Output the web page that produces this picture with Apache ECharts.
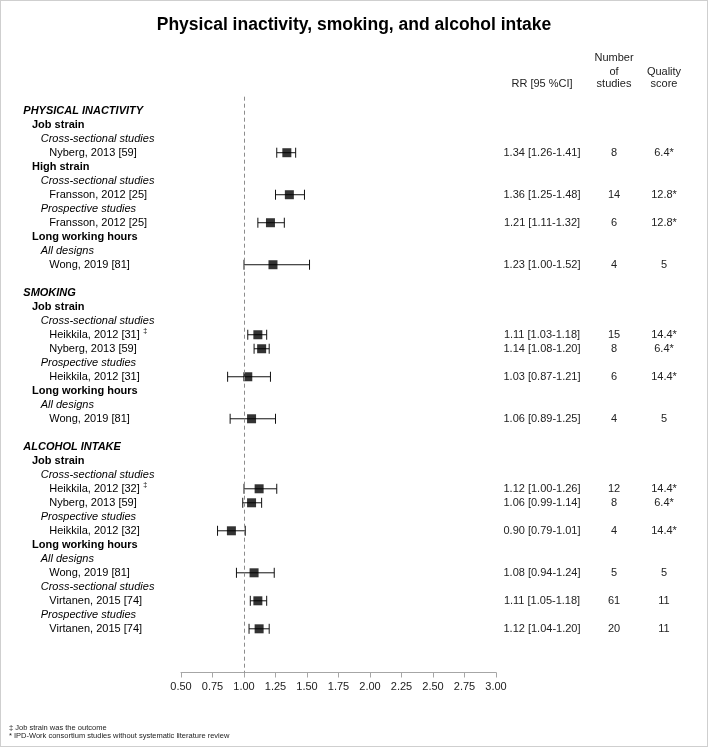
<!DOCTYPE html>
<html>
<head>
<meta charset="utf-8">
<script src="https://cdn.jsdelivr.net/npm/echarts@6/dist/echarts.min.js"></script>
<style>
html,body{margin:0;padding:0;background:#fff;}
#chart{position:absolute;left:0;top:0;width:708px;height:747px;}
#frame{position:absolute;left:0;top:0;width:708px;height:747px;box-sizing:border-box;border:1px solid #cfcfcf;pointer-events:none;}
</style>
</head>
<body>
<div id="chart"></div>
<div id="frame"></div>
<script>
// ---- data ----
const rowLabels = [
  "PHYSICAL INACTIVITY","Job strain","Cross-sectional studies","Nyberg, 2013 [59]",
  "High strain","Cross-sectional studies","Fransson, 2012 [25]","Prospective studies","Fransson, 2012 [25]",
  "Long working hours","All designs","Wong, 2019 [81]","",
  "SMOKING","Job strain","Cross-sectional studies","Heikkila, 2012 [31]","Nyberg, 2013 [59]",
  "Prospective studies","Heikkila, 2012 [31]","Long working hours","All designs","Wong, 2019 [81]","",
  "ALCOHOL INTAKE","Job strain","Cross-sectional studies","Heikkila, 2012 [32]","Nyberg, 2013 [59]",
  "Prospective studies","Heikkila, 2012 [32]","Long working hours","All designs","Wong, 2019 [81]",
  "Cross-sectional studies","Virtanen, 2015 [74]","Prospective studies","Virtanen, 2015 [74]"
];
const rowLevels = [0,1,2,3,1,2,3,2,3,1,2,3,-1, 0,1,2,3,3,2,3,1,2,3,-1, 0,1,2,3,3,2,3,1,2,3,2,3,2,3];
const rowMarks = ["","","","","","","","","","","","","","","","","‡","","","","","","","","","","","‡","","","","","","","","","",""];

const studyRows = [3,6,8,11,16,17,19,22,27,28,30,33,35,37];
const rr   = [1.34,1.36,1.21,1.23,1.11,1.14,1.03,1.06,1.12,1.06,0.90,1.08,1.11,1.12];
const lo   = [1.26,1.25,1.11,1.00,1.03,1.08,0.87,0.89,1.00,0.99,0.79,0.94,1.05,1.04];
const hi   = [1.41,1.48,1.32,1.52,1.18,1.20,1.21,1.25,1.26,1.14,1.01,1.24,1.18,1.20];
const nStudies = [8,14,6,4,15,8,6,4,12,8,4,5,61,20];
const quality = ["6.4*","12.8*","12.8*","5","14.4*","6.4*","14.4*","5","14.4*","6.4*","14.4*","5","11","11"];

const xTicks = [0.50,0.75,1.00,1.25,1.50,1.75,2.00,2.25,2.50,2.75,3.00];
const refValue = 1.0;

// ---- layout ----
const FONT = '"Liberation Sans", Arial, sans-serif';
const gridTop = 96.7, gridBottomY = 672.5;
const yMin = -1, yMax = 40.12;
const indentX = [23.3, 32, 40.7, 49.3];
const colRR = 542, colN = 614, colQ = 664;

const chart = echarts.init(document.getElementById('chart'), null, {renderer: 'canvas'});

const labelData = rowLabels.map((t, i) => [rowLevels[i], i, t, rowMarks[i]]).filter(d => d[0] >= 0);
const tableData = studyRows.map((r, i) => [r, (rr[i]).toFixed(2) + ' [' + lo[i].toFixed(2) + '-' + hi[i].toFixed(2) + ']', String(nStudies[i]), quality[i]]);

const fontFor = lvl => {
  if (lvl === 0) return 'italic bold 11px ' + FONT;
  if (lvl === 1) return 'bold 11px ' + FONT;
  if (lvl === 2) return 'italic 11px ' + FONT;
  return '11px ' + FONT;
};

const option = {
  animation: false,
  backgroundColor: '#fff',
  grid: [
    {left: 181, width: 315, top: gridTop, height: gridBottomY - gridTop},
    {left: 0, right: 0, top: gridTop, height: gridBottomY - gridTop}
  ],
  xAxis: [
    {
      type: 'value', gridIndex: 0, position: 'bottom', min: xTicks[0], max: xTicks[xTicks.length-1], interval: 0.25,
      axisLine: {show: true, onZero: false, lineStyle: {color: '#a6a6a6', width: 1}},
      axisTick: {show: true, inside: false, length: 5, lineStyle: {color: '#a6a6a6'}},
      axisLabel: {color: '#222', fontSize: 11, fontFamily: FONT, margin: 9, formatter: v => v.toFixed(2)},
      splitLine: {show: false}
    },
    {type: 'value', gridIndex: 1, min: 0, max: 708, show: false}
  ],
  yAxis: [
    {type: 'value', gridIndex: 0, min: yMin, max: yMax, inverse: true, show: false},
    {type: 'value', gridIndex: 1, min: yMin, max: yMax, inverse: true, show: false}
  ],
  graphic: [
    {type: 'text', left: 'center', top: 16, style: {text: 'Physical inactivity, smoking, and alcohol intake', font: 'bold 17.5px ' + FONT, fill: '#000'}},
    {type: 'text', x: colRR, y: 84, style: {text: 'RR [95 %CI]', font: '11px ' + FONT, fill: '#222', align: 'center', verticalAlign: 'middle'}},
    {type: 'text', x: colN, y: 58, style: {text: 'Number', font: '11px ' + FONT, fill: '#222', align: 'center', verticalAlign: 'middle'}},
    {type: 'text', x: colN, y: 71.5, style: {text: 'of', font: '11px ' + FONT, fill: '#222', align: 'center', verticalAlign: 'middle'}},
    {type: 'text', x: colN, y: 84, style: {text: 'studies', font: '11px ' + FONT, fill: '#222', align: 'center', verticalAlign: 'middle'}},
    {type: 'text', x: colQ, y: 71.5, style: {text: 'Quality', font: '11px ' + FONT, fill: '#222', align: 'center', verticalAlign: 'middle'}},
    {type: 'text', x: colQ, y: 84, style: {text: 'score', font: '11px ' + FONT, fill: '#222', align: 'center', verticalAlign: 'middle'}},
    {type: 'text', x: 9, y: 728, style: {text: '‡ Job strain was the outcome', font: '7.5px ' + FONT, fill: '#222', verticalAlign: 'middle'}},
    {type: 'text', x: 9, y: 735.5, style: {text: '* IPD-Work consortium studies without systematic literature review', font: '7.5px ' + FONT, fill: '#222', verticalAlign: 'middle'}}
  ],
  series: [
    {
      type: 'custom', xAxisIndex: 0, yAxisIndex: 0, z: 2,
      data: studyRows.map((r, i) => [lo[i], hi[i], r]),
      encode: {x: [0, 1], y: 2},
      renderItem: (params, api) => {
        const a = api.coord([api.value(0), api.value(2)]);
        const b = api.coord([api.value(1), api.value(2)]);
        const h = 5;
        const st = {stroke: '#111', lineWidth: 1};
        return {type: 'group', children: [
          {type: 'line', shape: {x1: a[0], y1: a[1], x2: b[0], y2: b[1]}, style: st},
          {type: 'line', shape: {x1: a[0], y1: a[1]-h, x2: a[0], y2: a[1]+h}, style: st},
          {type: 'line', shape: {x1: b[0], y1: b[1]-h, x2: b[0], y2: b[1]+h}, style: st}
        ]};
      },
      markLine: {
        silent: true, symbol: 'none', label: {show: false},
        lineStyle: {color: '#8c8c8c', type: [4, 3], width: 1},
        data: [{xAxis: refValue}]
      }
    },
    {
      type: 'scatter', xAxisIndex: 0, yAxisIndex: 0, z: 3,
      symbol: 'rect', symbolSize: 9, itemStyle: {color: '#000'},
      data: studyRows.map((r, i) => [rr[i], r])
    },
    {
      type: 'custom', xAxisIndex: 1, yAxisIndex: 1, z: 4,
      data: labelData,
      encode: {y: 1},
      renderItem: (params, api) => {
        const lvl = api.value(0);
        const row = api.value(1);
        const d = labelData[params.dataIndex];
        const p = api.coord([indentX[lvl], row]);
        const txt = d[3] ? '{a|' + d[2] + '} {s|' + d[3] + '}' : '{a|' + d[2] + '}';
        return {type: 'text', x: p[0], y: p[1], style: {
          text: txt, fill: '#000', align: 'left', verticalAlign: 'middle',
          rich: {
            a: {font: fontFor(lvl), lineHeight: 14, fill: '#000'},
            s: {font: '7px ' + FONT, lineHeight: 8, verticalAlign: 'top', fill: '#000'}
          }
        }};
      }
    },
    {
      type: 'custom', xAxisIndex: 1, yAxisIndex: 1, z: 4,
      data: tableData,
      encode: {y: 0},
      renderItem: (params, api) => {
        const d = tableData[params.dataIndex];
        const y = api.coord([0, api.value(0)])[1];
        const mk = (x, t) => ({type: 'text', x: x, y: y, style: {text: t, font: '11px ' + FONT, fill: '#222', align: 'center', verticalAlign: 'middle'}});
        return {type: 'group', children: [mk(colRR, d[1]), mk(colN, d[2]), mk(colQ, d[3])]};
      }
    }
  ]
};
chart.setOption(option);
</script>
</body>
</html>
